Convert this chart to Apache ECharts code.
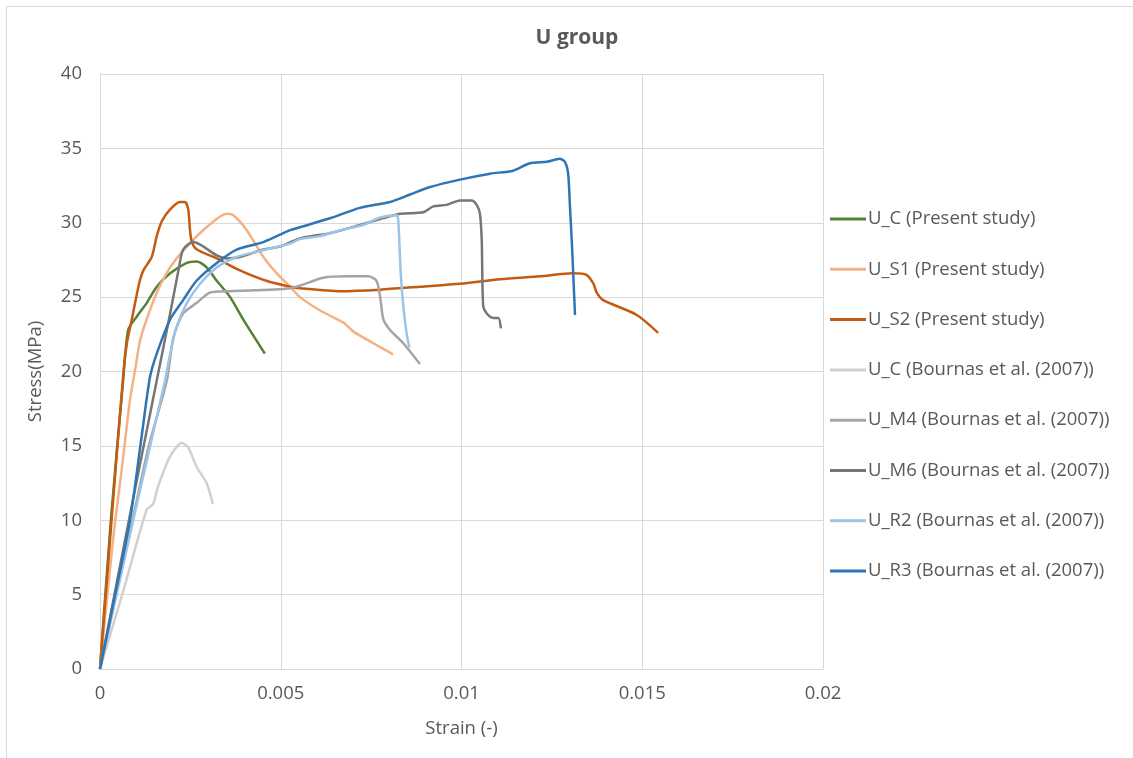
<!DOCTYPE html>
<html>
<head>
<meta charset="utf-8">
<script src="https://cdn.jsdelivr.net/npm/echarts@6/dist/echarts.min.js"></script>
<style>
html,body{margin:0;padding:0;background:#fff;overflow:hidden;width:1133px;height:758px;}
#frame{position:absolute;left:6px;top:6px;width:1200px;height:800px;border-left:1px solid #D9D9D9;border-top:1px solid #D9D9D9;}
#chart{position:absolute;left:0;top:0;width:1133px;height:758px;}
</style>
</head>
<body>
<div id="frame"></div>
<div id="chart"></div>
<script>
var seriesNames = [
  'U_C (Present study)',
  'U_S1 (Present study)',
  'U_S2 (Present study)',
  'U_C (Bournas et al. (2007))',
  'U_M4 (Bournas et al. (2007))',
  'U_M6 (Bournas et al. (2007))',
  'U_R2 (Bournas et al. (2007))',
  'U_R3 (Bournas et al. (2007))'
];
var seriesColors = ['#548235','#F4B183','#C55A11','#D0D0D0','#A5A5A5','#767676','#9DC3E6','#2E75B6'];

var xTicks = [0, 0.005, 0.01, 0.015, 0.02];
var yTicks = [0, 5, 10, 15, 20, 25, 30, 35, 40];

var UC_present = [[0,0],[0.0003,10],[0.00064,19.4],[0.00078,22.8],[0.00102,23.7],[0.00129,24.6],[0.00157,25.7],[0.00194,26.6],[0.0024,27.3],[0.00267,27.4],[0.00295,27.0],[0.00323,26.1],[0.0036,25.0],[0.00396,23.5],[0.00456,21.2]];
var US1_present = [[0,0],[0.00037,8.9],[0.0006,13.4],[0.00083,18.1],[0.00097,20.1],[0.00111,22.1],[0.00129,23.5],[0.00157,25.3],[0.00194,27.0],[0.0024,28.4],[0.00295,29.7],[0.0035,30.6],[0.00369,30.5],[0.00406,29.5],[0.00452,27.7],[0.00489,26.6],[0.00526,25.7],[0.00553,25.0],[0.00609,24.1],[0.00673,23.3],[0.00687,23.0],[0.007,22.7],[0.00756,21.9],[0.00811,21.15]];
var US2_present = [[0,0],[0.00032,10],[0.00065,20],[0.00075,22],[0.00088,23.5],[0.00097,24.6],[0.0011,26.1],[0.0012,26.8],[0.00143,27.7],[0.00157,29.1],[0.00171,30.1],[0.00194,30.9],[0.00221,31.4],[0.00235,31.4],[0.00244,30.9],[0.00249,29.5],[0.00254,28.7],[0.00268,28.2],[0.00323,27.6],[0.00387,26.8],[0.0046,26.1],[0.00526,25.7],[0.00553,25.6],[0.00664,25.4],[0.00775,25.5],[0.00885,25.7],[0.00996,25.9],[0.01107,26.2],[0.01217,26.4],[0.01309,26.6],[0.01346,26.5],[0.01365,25.9],[0.01374,25.3],[0.01392,24.8],[0.01485,23.8],[0.01544,22.6]];
var UC_bournas = [[0,0],[0.00065,5.3],[0.00129,10.7],[0.00147,11.1],[0.00161,12.3],[0.00194,14.3],[0.00226,15.2],[0.00244,14.9],[0.00267,13.6],[0.00295,12.5],[0.00312,11.1]];
var UM4_bournas = [[0,0],[0.0009,10],[0.00135,15],[0.00185,19.4],[0.00203,22.3],[0.0023,23.9],[0.00267,24.6],[0.00304,25.3],[0.0036,25.4],[0.00526,25.6],[0.00618,26.3],[0.00682,26.4],[0.00742,26.4],[0.00765,26.1],[0.00775,25.0],[0.00784,23.5],[0.00802,22.8],[0.00839,21.9],[0.00885,20.5]];
var UM6_bournas = [[0,0],[0.0008,10],[0.00157,19.4],[0.00194,23.9],[0.00217,26.8],[0.0023,28.2],[0.00258,28.7],[0.00286,28.4],[0.00323,27.8],[0.0035,27.6],[0.00387,27.7],[0.00452,28.2],[0.00498,28.4],[0.00553,28.95],[0.00636,29.3],[0.00719,29.85],[0.0083,30.6],[0.00894,30.7],[0.00922,31.1],[0.00959,31.2],[0.00996,31.5],[0.01028,31.5],[0.01042,31.2],[0.01051,30.6],[0.01056,28.8],[0.0106,24.4],[0.0107,23.9],[0.01088,23.6],[0.01102,23.6],[0.01109,22.9]];
var UR2_bournas = [[0,0],[0.0009,9.8],[0.0018,19.4],[0.00194,21.2],[0.00212,23.0],[0.0024,24.6],[0.00277,25.9],[0.00323,27.0],[0.00378,27.7],[0.00433,28.05],[0.00526,28.6],[0.00553,28.9],[0.00609,29.1],[0.00664,29.5],[0.00728,29.85],[0.00775,30.35],[0.00821,30.5],[0.00825,30.2],[0.00832,26.6],[0.00839,24.4],[0.00848,22.6],[0.00856,21.6]];
var UR3_bournas = [[0,0],[0.00037,4.4],[0.00083,10],[0.00115,15.6],[0.00138,19.6],[0.00157,21.2],[0.00194,23.5],[0.0023,24.8],[0.00267,26.1],[0.00323,27.3],[0.00378,28.2],[0.00452,28.7],[0.00526,29.5],[0.00553,29.7],[0.00636,30.3],[0.00719,31.0],[0.00802,31.4],[0.00858,31.9],[0.00913,32.4],[0.00996,32.9],[0.01079,33.3],[0.01143,33.5],[0.01189,34.0],[0.01236,34.1],[0.01272,34.3],[0.01286,34.1],[0.01295,33.3],[0.013,31.1],[0.01305,28.8],[0.01309,26.6],[0.01314,23.8]];

var allData = [UC_present, US1_present, US2_present, UC_bournas, UM4_bournas, UM6_bournas, UR2_bournas, UR3_bournas];

var textColor = '#595959';
var fontFam = '"Open Sans", sans-serif';

var chart = echarts.init(document.getElementById('chart'), null, {renderer:'canvas'});
chart.setOption({
  animation: false,
  backgroundColor: 'transparent',
  title: {
    text: 'U group',
    left: 572, top: 23, textAlign: 'center',
    textStyle: {fontFamily: fontFam, fontSize: 21, fontWeight: 'bold', color: textColor}
  },
  legend: {
    orient: 'vertical',
    left: 825, top: 203,
    itemWidth: 36, itemHeight: 3, itemGap: 28.3,
    icon: 'rect',
    data: seriesNames,
    textStyle: {fontFamily: fontFam, fontSize: 18.5, color: textColor, lineHeight: 22, padding: [0,0,0,-3]}
  },
  grid: {left: 100, right: 310, top: 74, bottom: 89, containLabel: false},
  xAxis: {
    type: 'value', min: xTicks[0], max: xTicks[xTicks.length-1], interval: 0.005,
    name: 'Strain (-)', nameLocation: 'middle', nameGap: 50,
    nameTextStyle: {fontFamily: fontFam, fontSize: 18.5, color: textColor},
    axisLine: {show: true, lineStyle: {color: '#D9D9D9', width: 1}},
    axisTick: {show: false},
    splitLine: {show: true, lineStyle: {color: '#D9D9D9', width: 1}},
    axisLabel: {fontFamily: fontFam, fontSize: 18.5, color: textColor, margin: 15,
      formatter: function(v){ return xTicks.indexOf(v) >= 0 ? String(v) : ''; }}
  },
  yAxis: {
    type: 'value', min: yTicks[0], max: yTicks[yTicks.length-1], interval: 5,
    name: 'Stress(MPa)', nameLocation: 'middle', nameGap: 55, nameRotate: 90,
    nameTextStyle: {fontFamily: fontFam, fontSize: 18.5, color: textColor},
    axisLine: {show: true, lineStyle: {color: '#D9D9D9', width: 1}},
    axisTick: {show: false},
    splitLine: {show: true, lineStyle: {color: '#D9D9D9', width: 1}},
    axisLabel: {fontFamily: fontFam, fontSize: 18.5, color: textColor, margin: 18}
  },
  series: seriesNames.map(function(n, i){
    return {
      name: n, type: 'line', data: allData[i],
      showSymbol: false, symbol: 'none',
      smooth: 0.25,
      lineStyle: {color: seriesColors[i], width: 2.5},
      itemStyle: {color: seriesColors[i]},
      z: 2 + i
    };
  })
});
</script>
</body>
</html>
